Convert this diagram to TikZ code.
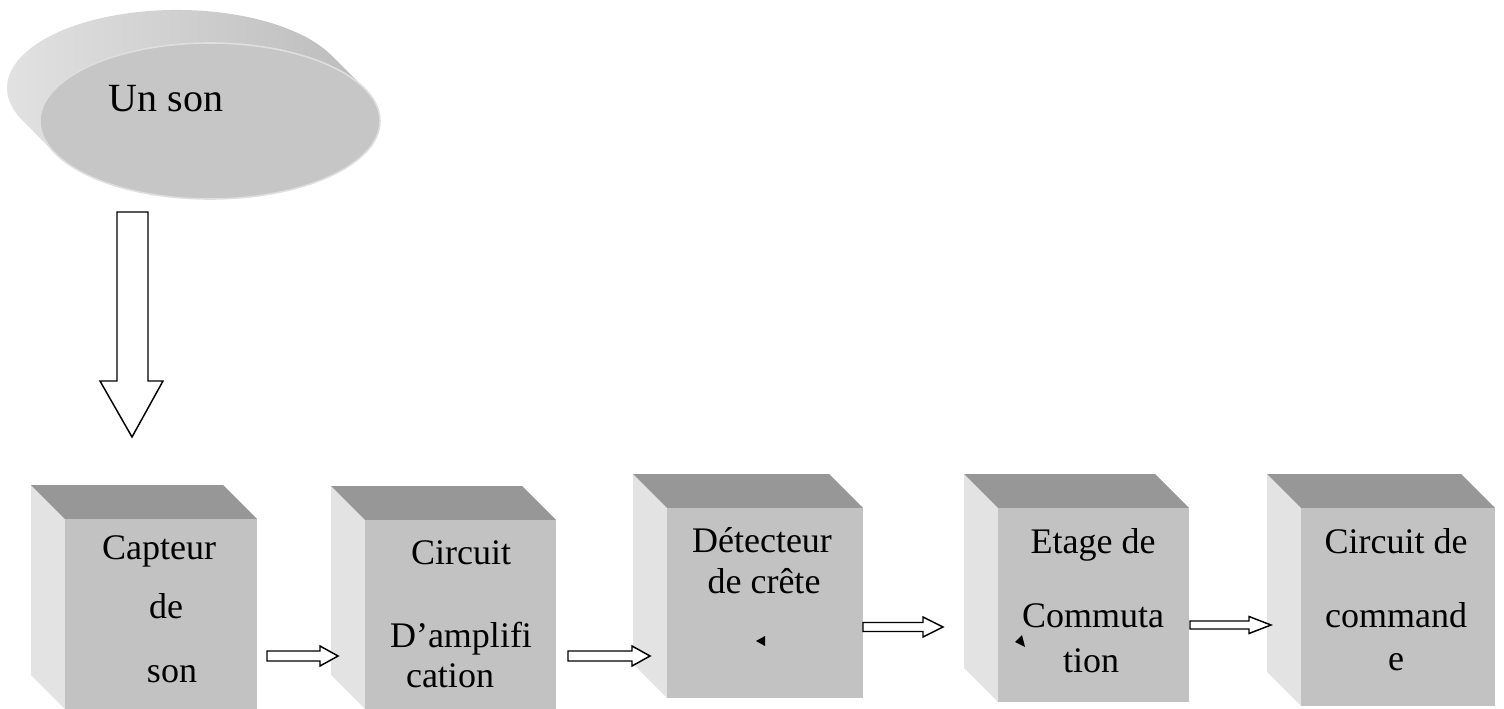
\documentclass[tikz,border=0pt]{standalone}
\usepackage{fontspec}
\setmainfont{Liberation Serif}
\usetikzlibrary{shapes.geometric}
\definecolor{frontc}{HTML}{C2C2C2}
\definecolor{topc}{HTML}{979797}
\definecolor{sidec}{HTML}{E3E3E3}
\definecolor{diskc}{HTML}{C6C6C6}
\definecolor{diskrim}{HTML}{DEDEDE}
\definecolor{diskL}{HTML}{E4E4E4}
\definecolor{diskM}{HTML}{A2A2A2}
\definecolor{diskR}{HTML}{BCBCBC}
\tikzset{
  facebox/.style={rectangle, fill=frontc, draw=none, inner sep=0pt, outer sep=0pt},
  lbl/.style={anchor=base, inner sep=0pt, font=\fontsize{27}{32}\selectfont},
  blockarrow/.style={draw=black, fill=white, line width=1.1pt, line join=miter},
}
\newcommand\mycube[5]{%
  \fill[sidec] (#2,#4) -- ++(-34,-34) -- ++(0,{#5-#4}) -- (#2,#5) -- cycle;
  \fill[topc] (#2,#4) -- ++(-34,-34) -- ({#3-34},{#4-34}) -- (#3,#4) -- cycle;
  \node[facebox, anchor=north west, minimum width={(#3-#2)*0.75pt}, minimum height={(#5-#4)*0.75pt}] (#1) at (#2,#4) {};
}
\newcommand\myharrow[7]{% name x0 xs xt cy hs hh
  \draw[blockarrow] (#2,{#5-#6}) -- (#3,{#5-#6}) -- (#3,{#5-#7}) -- (#4,#5) -- (#3,{#5+#7}) -- (#3,{#5+#6}) -- (#2,{#5+#6}) -- cycle;
  \coordinate (#1) at (#4,#5);
}
\begin{document}
\begin{tikzpicture}[x=0.75pt,y=-0.75pt]
\useasboundingbox (0,0) rectangle (1504,709);
% disk
\shade[left color=diskL, middle color=diskM, right color=diskR]
  (364.6,88.5) -- (331.6,55.5) arc[start angle=24.6, end angle=204.6, x radius=127.5pt, y radius=58.5pt] -- (55.4,153.5) -- cycle;
\node[ellipse, fill=diskc, draw=diskrim, line width=1.2pt, minimum width=255pt, minimum height=117pt, inner sep=0pt] (disk) at (210,121) {};
\node[anchor=base, inner sep=0pt, font=\fontsize{30}{36}\selectfont] (sonlbl) at (166,112) {Un son};
% down arrow
\draw[blockarrow] (117,212) -- (148,212) -- (148,381) -- (163,381) -- (132,437) -- (100,381) -- (117,381) -- cycle;
\coordinate (downtip) at (132,437);
% cubes
\mycube{c1}{65}{257}{519}{709}
\mycube{c2}{365}{556}{520}{709}
\mycube{c3}{667}{863}{508}{698}
\mycube{c4}{998}{1189}{508}{702}
\mycube{c5}{1301}{1495}{508}{706}
% labels
\node[lbl] (c1a) at (159,559) {Capteur};
\node[lbl] (c1b) at (166,618) {de};
\node[lbl] (c1c) at (172,682) {son};
\node[lbl] (c2a) at (461,564) {Circuit};
\node[lbl] (c2b) at (461,647) {D’amplifi};
\node[lbl] (c2c) at (450,687) {cation};
\node[lbl] (c3a) at (762,552) {Détecteur};
\node[lbl] (c3b) at (764,593) {de crête};
\node[lbl] (c4a) at (1093,553) {Etage de};
\node[lbl] (c4b) at (1093,627) {Commuta};
\node[lbl] (c4c) at (1091,672) {tion};
\node[lbl] (c5a) at (1396,553) {Circuit de};
\node[lbl] (c5b) at (1396,627) {command};
\node[lbl] (c5c) at (1396,670) {e};
% small triangles
\fill[black] (756,641) -- (765,636) -- (765,646) -- cycle;
\fill[black] (1015,642) -- (1022,635) -- (1025,647) -- cycle;
% block arrows between stages
\myharrow{a1}{267}{320}{338}{656}{5}{10}
\myharrow{a2}{568}{632}{650}{656}{5}{10}
\myharrow{a3}{863}{923}{943}{627}{4.5}{10}
\myharrow{a4}{1190}{1249}{1271}{625}{4}{8.5}
\end{tikzpicture}
\end{document}
